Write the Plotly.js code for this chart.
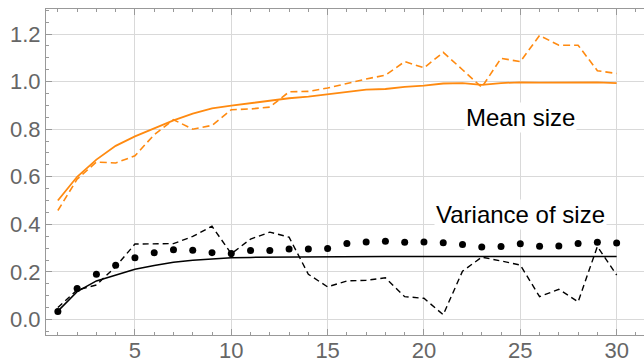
<!DOCTYPE html>
<html>
<head>
<meta charset="utf-8">
<script src="https://cdn.plot.ly/plotly-3.0.1.min.js"></script>
<style>
html,body{margin:0;padding:0;overflow:hidden;background:#fff;}
#chart{width:644px;height:363px;}
</style>
</head>
<body>
<div id="chart"></div>
<script>
const steps = [1,2,3,4,5,6,7,8,9,10,11,12,13,14,15,16,17,18,19,20,21,22,23,24,25,26,27,28,29,30];
const meanFit = [0.50,0.60,0.672,0.730,0.770,0.805,0.837,0.865,0.888,0.899,0.910,0.920,0.930,0.937,0.947,0.957,0.966,0.969,0.978,0.983,0.992,0.994,0.986,0.994,0.997,0.996,0.997,0.999,0.997,0.994];
const meanSim = [0.458,0.59,0.662,0.658,0.688,0.777,0.84,0.80,0.816,0.882,0.885,0.893,0.957,0.959,0.973,0.993,1.011,1.027,1.084,1.058,1.123,1.05,0.976,1.098,1.084,1.194,1.153,1.153,1.046,1.034];
const varFit = [0.035,0.117,0.162,0.187,0.211,0.227,0.241,0.249,0.255,0.259,0.261,0.262,0.263,0.263,0.264,0.264,0.264,0.265,0.265,0.265,0.265,0.265,0.265,0.265,0.265,0.265,0.265,0.265,0.265,0.265];
const varSim = [0.05,0.124,0.145,0.222,0.317,0.317,0.319,0.349,0.392,0.276,0.338,0.367,0.346,0.19,0.137,0.162,0.165,0.175,0.096,0.089,0.02,0.203,0.262,0.246,0.229,0.096,0.127,0.074,0.307,0.187];
const varDots = [0.033,0.13,0.19,0.228,0.26,0.28,0.293,0.291,0.281,0.277,0.29,0.29,0.296,0.296,0.298,0.319,0.326,0.329,0.325,0.326,0.323,0.315,0.305,0.307,0.318,0.308,0.309,0.319,0.325,0.322];
const labels = ["Mean size","Variance of size"];

const orange = '#ff8a10';
const traces = [
  {x: steps, y: meanSim, mode:'lines', line:{color:orange, width:1.6, dash:'7px,4px'}},
  {x: steps, y: meanFit, mode:'lines', line:{color:orange, width:1.8}},
  {x: steps, y: varSim, mode:'lines', line:{color:'#000', width:1.4, dash:'6px,4px'}},
  {x: steps, y: varFit, mode:'lines', line:{color:'#000', width:1.5}},
  {x: steps, y: varDots, mode:'markers', marker:{color:'#000', size:7}}
];

const tickFont = {family:'"Liberation Sans", Arial, sans-serif', size:22, color:'#666'};
const annFont = {family:'"Liberation Sans", Arial, sans-serif', size:24, color:'#000'};
const layout = {
  width:644, height:363,
  margin:{l:46, r:0, t:9, b:28},
  paper_bgcolor:'#fff', plot_bgcolor:'#fff',
  showlegend:false,
  font:{family:'"Liberation Sans", Arial, sans-serif'},
  xaxis:{
    range:[0.384, 31.42], tick0:0, dtick:5, ticks:'inside', ticklen:6, tickcolor:'#999',
    showline:true, linecolor:'#999', linewidth:1, mirror:'ticks',
    showgrid:true, gridcolor:'#d9d9d9', gridwidth:1, zeroline:false,
    tickfont:tickFont, ticklabelstandoff:-4,
    minor:{dtick:1, tick0:0, ticks:'inside', ticklen:3, tickcolor:'#999', showgrid:false}
  },
  yaxis:{
    range:[-0.0653, 1.3053], tick0:0, dtick:0.2, tickformat:'.1f', ticks:'inside', ticklen:6, tickcolor:'#999',
    showline:true, linecolor:'#999', linewidth:1,
    showgrid:true, gridcolor:'#d9d9d9', gridwidth:1, zeroline:false,
    tickfont:tickFont,
    minor:{dtick:0.05, tick0:0, ticks:'inside', ticklen:3, tickcolor:'#999', showgrid:false}
  },
  annotations:[
    {x:25, y:0.85, xref:'x', yref:'y', text:labels[0], showarrow:false, bgcolor:'#fff', font:annFont},
    {x:25, y:0.443, xref:'x', yref:'y', text:labels[1], showarrow:false, bgcolor:'#fff', font:annFont}
  ]
};
Plotly.newPlot('chart', traces, layout, {displayModeBar:false, staticPlot:true});
</script>
</body>
</html>
